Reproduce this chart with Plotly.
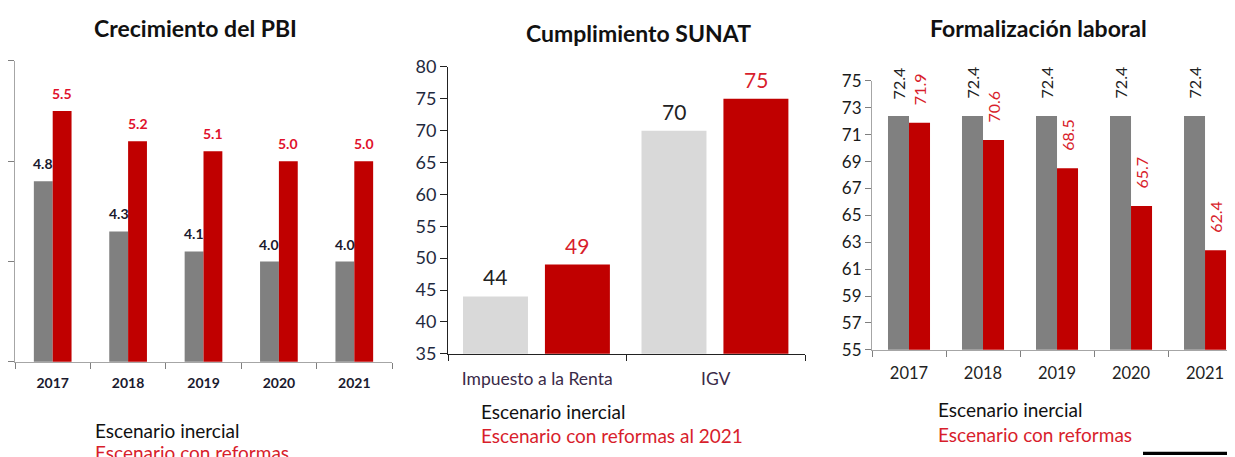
import plotly.graph_objects as go

# ---- data ----
years = ["2017", "2018", "2019", "2020", "2021"]
pbi_inercial = [4.8, 4.3, 4.1, 4.0, 4.0]
pbi_reformas = [5.5, 5.2, 5.1, 5.0, 5.0]

sunat_cats = ["Impuesto a la Renta", "IGV"]
sunat_inercial = [44, 70]
sunat_reformas = [49, 75]

form_inercial = [72.4, 72.4, 72.4, 72.4, 72.4]
form_reformas = [71.9, 70.6, 68.5, 65.7, 62.4]

titles = ["Crecimiento del PBI", "Cumplimiento SUNAT", "Formalización laboral"]

# ---- styles ----
FONT = "Lato"
GRAY = "#808080"
LGRAY = "#d9d9d9"
RED = "#c00000"
RED_TXT = "#d81e2c"
DARK = "#1a1a2e"
W, H = 1235, 457
# page-to-photo compensation (measured)
XOFF = 8
YOFF, YS = 19.0, 0.9525

def sx(x):
    return (x - XOFF) / W

def sy(y):
    return 1 - ((y - YOFF) / YS) / H

def px_x(a, b):
    return [max(0, sx(a)), min(1, sx(b))]

def px_y(top, bottom):
    return [sy(bottom), sy(top)]

fig = go.Figure()
annotations = []

def add_pair(xa, ya, cats, v1, v2, c1, c2, width, off1, off2, lab_font, lab_c1, lab_c2, fmt, angle=0, shift=6):
    fig.add_trace(go.Bar(x=cats, y=v1, marker=dict(color=c1, line=dict(width=0)), width=width,
                         offset=off1, xaxis=xa, yaxis=ya, showlegend=False, hoverinfo="x+y"))
    fig.add_trace(go.Bar(x=cats, y=v2, marker=dict(color=c2, line=dict(width=0)), width=width,
                         offset=off2, xaxis=xa, yaxis=ya, showlegend=False, hoverinfo="x+y"))
    for vals, off, col in ((v1, off1, lab_c1), (v2, off2, lab_c2)):
        for i, v in enumerate(vals):
            annotations.append(dict(
                x=i + off + width / 2, y=v, xref=xa, yref=ya,
                text=fmt.format(v), showarrow=False, textangle=angle,
                xanchor="center", yanchor="bottom", yshift=shift,
                font=dict(family=FONT, size=lab_font["size"], color=col,
                          weight=lab_font.get("weight", "normal"))))

add_pair("x", "y", years, pbi_inercial, pbi_reformas, GRAY, RED, 0.25, -0.25, 0.0,
         {"size": 14, "weight": "bold"}, DARK, "#e0122c", "{:.1f}", shift=7)
add_pair("x2", "y2", sunat_cats, sunat_inercial, sunat_reformas, LGRAY, RED, 0.364, -0.416, 0.043,
         {"size": 21}, "#222222", RED_TXT, "{:.0f}", shift=5)
add_pair("x3", "y3", years, form_inercial, form_reformas, GRAY, RED, 0.284, -0.284, 0.0,
         {"size": 16}, "#222222", RED_TXT, "{:.1f}", angle=-90, shift=15)

axis_common = dict(showgrid=False, zeroline=False, showline=True, ticks="outside", fixedrange=True)

fig.update_layout(
    width=W, height=H,
    margin=dict(l=0, r=0, t=0, b=0),
    plot_bgcolor="white", paper_bgcolor="white",
    barmode="overlay",
    xaxis=dict(**axis_common, domain=px_x(15, 392), anchor="y", type="category",
               range=[-0.5, 4.5], linecolor="#a6a6a6", tickcolor="#7f7f7f", ticklen=6,
               ticklabelstandoff=8,
               tickson="boundaries", tickfont=dict(family=FONT, size=14, color=DARK, weight="bold")),
    yaxis=dict(**axis_common, domain=px_y(60, 361), anchor="x", range=[3, 6], dtick=1,
               showticklabels=False, linecolor="#a6a6a6", tickcolor="#7f7f7f", ticklen=6),
    xaxis2=dict(**axis_common, domain=px_x(448, 805), anchor="y2", type="category",
                range=[-0.5, 1.5], linecolor="#222222", tickcolor="#222222", ticklen=6,
                ticklabelstandoff=9,
                tickson="boundaries", tickfont=dict(family=FONT, size=17.5, color="#3a2a48")),
    yaxis2=dict(**axis_common, domain=px_y(66, 353), anchor="x2", range=[35, 80], dtick=5, tick0=35,
                linecolor="#222222", tickcolor="#222222", ticklen=7,
                tickfont=dict(family=FONT, size=18, color="#1f2a40")),
    xaxis3=dict(**axis_common, domain=px_x(872, 1235), anchor="y3", type="category",
                range=[-0.5, 4.405], linecolor="#a6a6a6", tickcolor="#7f7f7f", ticklen=6,
                ticklabelstandoff=8,
                tickson="boundaries", tickfont=dict(family=FONT, size=16.5, color="#222222")),
    yaxis3=dict(**axis_common, domain=px_y(80, 349), anchor="x3", range=[55, 75], dtick=2, tick0=55,
                linecolor="#a6a6a6", tickcolor="#7f7f7f", ticklen=6,
                tickfont=dict(family=FONT, size=17, color="#1a1a1a")),
)

# titles
title_pos = [(195, 27), (638, 32), (1038, 27)]
for t, (xc, yc) in zip(titles, title_pos):
    annotations.append(dict(x=sx(xc), y=sy(yc), xref="paper", yref="paper", text=t,
                            showarrow=False, xanchor="center", yanchor="middle",
                            font=dict(family=FONT, size=23, color="#111111", weight="bold")))

legend_items = [
    ("Escenario inercial", 93, 430, "#111111"),
    ("Escenario con reformas", 93, 452, RED_TXT),
    ("Escenario inercial", 479, 411, "#111111"),
    ("Escenario con reformas al 2021", 479, 435, RED_TXT),
    ("Escenario inercial", 936, 409, "#111111"),
    ("Escenario con reformas", 936, 434, RED_TXT),
]
for t, xl, yc, col in legend_items:
    annotations.append(dict(x=sx(xl), y=sy(yc), xref="paper", yref="paper", text=t,
                            showarrow=False, xanchor="left", yanchor="middle",
                            font=dict(family=FONT, size=19, color=col)))

fig.update_layout(annotations=annotations)

# black bar at bottom right
fig.add_shape(type="rect", xref="paper", yref="paper", x0=sx(1143), x1=1, y0=0, y1=sy(451),
              fillcolor="black", line=dict(width=0))

fig.write_html("out.html", config={"displayModeBar": False})
